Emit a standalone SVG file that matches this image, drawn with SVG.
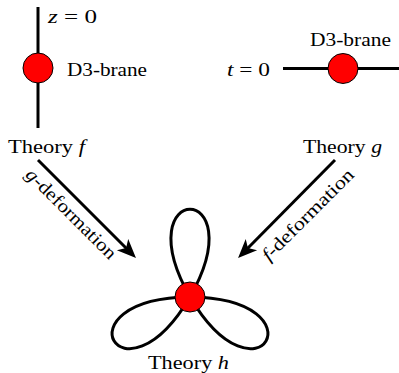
<svg xmlns="http://www.w3.org/2000/svg" width="399" height="373" viewBox="0 0 399 373">
<style>
  .t { font-family: "Times New Roman", Times, "Liberation Serif", "DejaVu Serif", "Noto Serif", serif; font-size: 18.5px; fill: #000; }
  .it { font-style: italic; }
  .thick { stroke: #000; stroke-width: 3; fill: none; }
  .brane { fill: #ff0000; stroke: #000; stroke-width: 1; }
</style>
<defs>
  <marker id="ah" markerUnits="userSpaceOnUse" viewBox="-20 -9 20 18" markerWidth="20" markerHeight="18" refX="-12" refY="0" orient="auto">
    <path d="M0,0 L-19,-8 L-14,0 L-19,8 Z" fill="#000"/>
  </marker>
</defs>
<rect width="399" height="373" fill="#fff"/>
<g id="theory-f">
  <line class="thick" x1="38" y1="7" x2="38" y2="128"/>
  <circle class="brane" cx="38" cy="68" r="15"/>
  <text class="t" x="48" y="23" textLength="49" lengthAdjust="spacingAndGlyphs"><tspan class="it">z</tspan> = 0</text>
  <text class="t" x="67" y="76" textLength="80" lengthAdjust="spacingAndGlyphs">D3-brane</text>
  <text class="t" x="8" y="153" textLength="77" lengthAdjust="spacingAndGlyphs">Theory <tspan class="it">f</tspan></text>
</g>

<g id="theory-g">
  <line class="thick" x1="283" y1="68.5" x2="399" y2="68.5"/>
  <circle class="brane" cx="343" cy="68.5" r="15"/>
  <text class="t" x="227" y="76" textLength="43" lengthAdjust="spacingAndGlyphs"><tspan class="it">t</tspan> = 0</text>
  <text class="t" x="310" y="46" textLength="81" lengthAdjust="spacingAndGlyphs">D3-brane</text>
  <text class="t" x="303" y="153" textLength="79" lengthAdjust="spacingAndGlyphs">Theory <tspan class="it">g</tspan></text>
</g>

<g id="theory-h">
  <path class="thick" d="M190,297 C124,180 256,180 190,297"/>
  <path class="thick" d="M190,297 C124,180 256,180 190,297" transform="rotate(-120 190 297)"/>
  <path class="thick" d="M190,297 C124,180 256,180 190,297" transform="rotate(120 190 297)"/>
  <circle class="brane" cx="190" cy="297" r="15"/>
  <text class="t" x="148" y="369" textLength="81" lengthAdjust="spacingAndGlyphs">Theory <tspan class="it">h</tspan></text>
</g>

<g id="connectors">
  <line class="thick" x1="38" y1="160" x2="127.5" y2="249.5" marker-end="url(#ah)"/>
  <line class="thick" x1="335" y1="160" x2="246.5" y2="249.5" marker-end="url(#ah)"/>
  <text class="t" transform="translate(67,218) rotate(45)" text-anchor="middle" textLength="120" lengthAdjust="spacingAndGlyphs"><tspan class="it">g</tspan>-deformation</text>
  <text class="t" transform="translate(312,219) rotate(-45)" text-anchor="middle" textLength="122" lengthAdjust="spacingAndGlyphs"><tspan class="it">f</tspan>-deformation</text>
</g>
</svg>
